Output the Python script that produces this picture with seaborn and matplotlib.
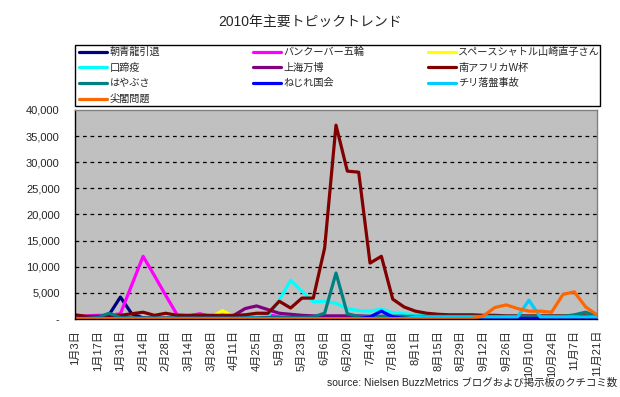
import pandas as pd
import matplotlib
matplotlib.use('Agg')
import matplotlib.pyplot as plt
from matplotlib.lines import Line2D
from matplotlib.patches import Rectangle
from matplotlib.ticker import FuncFormatter
import seaborn as sns

# 週ごとのクチコミ数 (2010/1/3 - 11/21)
weeks = ['1月3日', '1月10日', '1月17日', '1月24日', '1月31日', '2月7日', '2月14日', '2月21日',
         '2月28日', '3月7日', '3月14日', '3月21日', '3月28日', '4月4日', '4月11日', '4月18日',
         '4月25日', '5月2日', '5月9日', '5月16日', '5月23日', '5月30日', '6月6日', '6月13日',
         '6月20日', '6月27日', '7月4日', '7月11日', '7月18日', '7月25日', '8月1日', '8月8日',
         '8月15日', '8月22日', '8月29日', '9月5日', '9月12日', '9月19日', '9月26日', '10月3日',
         '10月10日', '10月17日', '10月24日', '10月31日', '11月7日', '11月14日', '11月21日']

asashoryu = [100, 100, 100, 800, 4200, 1000, 200, 100, 100, 100, 100, 100, 100, 100, 100, 100,
             100, 100, 100, 100, 100, 100, 100, 100, 100, 100, 100, 100, 100, 100, 100, 100,
             100, 100, 100, 100, 100, 100, 100, 100, 100, 100, 100, 100, 100, 100, 100]
vancouver = [500, 600, 700, 700, 1000, 6500, 12000, 8300, 4500, 800, 600, 1000, 500, 400, 300, 400,
             300, 900, 400, 300, 300, 300, 300, 300, 300, 300, 300, 300, 300, 300, 300, 300,
             300, 300, 300, 300, 300, 300, 300, 300, 300, 300, 300, 300, 300, 300, 300]
shuttle = [100, 100, 100, 100, 100, 100, 100, 100, 100, 100, 100, 100, 400, 1600, 500, 100,
           100, 100, 100, 100, 100, 100, 100, 100, 100, 100, 100, 100, 100, 100, 100, 100,
           100, 100, 100, 100, 100, 100, 100, 100, 100, 100, 100, 100, 100, 100, 100]
fmd = [100, 100, 100, 100, 100, 100, 100, 100, 100, 100, 100, 100, 100, 100, 100, 300,
       500, 500, 3600, 7400, 5300, 3300, 3400, 3000, 2000, 1600, 1500, 1900, 1200, 1000, 800, 700,
       600, 500, 400, 300, 300, 300, 300, 300, 300, 300, 300, 300, 300, 300, 300]
expo = [100, 100, 100, 100, 100, 100, 100, 100, 100, 100, 100, 100, 100, 100, 700, 2000,
        2500, 1800, 1100, 900, 700, 600, 600, 600, 600, 600, 500, 500, 500, 500, 200, 200,
        200, 200, 200, 200, 200, 200, 200, 200, 200, 200, 200, 200, 200, 200, 200]
worldcup = [800, 500, 500, 600, 700, 1000, 1300, 700, 1100, 700, 700, 700, 700, 700, 700, 800,
            1100, 1100, 3400, 2100, 4000, 4000, 13600, 37100, 28300, 28100, 10700, 12000, 3800, 2300, 1500, 1100,
            900, 800, 800, 800, 700, 700, 600, 600, 600, 600, 600, 600, 600, 600, 300]
hayabusa = [100, 100, 300, 1100, 300, 200, 200, 200, 200, 200, 200, 200, 200, 200, 200, 200,
            200, 300, 300, 300, 300, 400, 1100, 8800, 1000, 500, 500, 500, 500, 500, 500, 500,
            500, 500, 500, 500, 500, 500, 500, 500, 500, 500, 500, 500, 800, 1300, 500]
nejire = [100, 100, 100, 100, 100, 100, 100, 100, 100, 100, 100, 100, 100, 100, 100, 100,
          100, 100, 100, 100, 100, 100, 100, 100, 100, 100, 400, 1500, 400, 100, 100, 100,
          100, 100, 100, 100, 100, 100, 100, 100, 100, 100, 100, 100, 100, 100, 100]
chile = [0, 0, 0, 0, 0, 0, 0, 0, 0, 0, 0, 0, 0, 0, 0, 0,
         0, 0, 0, 0, 0, 0, 0, 0, 0, 0, 0, 0, 0, 0, 400, 400,
         400, 400, 400, 400, 400, 400, 400, 400, 3600, 400, 400, 400, 400, 400, 400]
senkaku = [50, 50, 50, 50, 50, 50, 50, 50, 50, 50, 50, 50, 50, 50, 50, 50,
           50, 50, 50, 50, 50, 50, 50, 50, 50, 50, 50, 50, 50, 50, 50, 50,
           50, 50, 50, 100, 600, 2200, 2700, 2000, 1500, 1500, 1300, 4700, 5200, 2300, 800]

topics = ['朝青龍引退', 'バンクーバー五輪', 'スペースシャトル山崎直子さん', '口蹄疫', '上海万博',
          '南アフリカW杯', 'はやぶさ', 'ねじれ国会', 'チリ落盤事故', '尖閣問題']
colors = ['#000080', '#FF00FF', '#FFFF00', '#00FFFF', '#800080',
          '#800000', '#008080', '#0000FF', '#00CCFF', '#FF6600']
tick_labels = weeks[::2]

df = pd.DataFrame({'週': weeks, 'pos': range(len(weeks))})
for name, vals in zip(topics, [asashoryu, vancouver, shuttle, fmd, expo, worldcup,
                               hayabusa, nejire, chile, senkaku]):
    df[name] = vals
long = df.melt(id_vars=['週', 'pos'], value_vars=topics, var_name='topic', value_name='count')

sns.set_style('white')
plt.rcParams['font.family'] = ['Liberation Sans', 'Noto Sans CJK JP']

fig = plt.figure(figsize=(6.2, 3.97), dpi=100)
ax = fig.add_axes([75 / 620, 1 - 319 / 397, 522 / 620, 209 / 397])
ax.set_facecolor('#C0C0C0')

sns.lineplot(data=long, x='pos', y='count', hue='topic', hue_order=topics,
             palette=dict(zip(topics, colors)), linewidth=2.3, sort=False,
             legend=False, ax=ax)

ax.set_xlim(0, len(weeks) - 1)
ax.set_ylim(0, 40000)
ax.set_yticks(range(0, 40001, 5000))
ax.yaxis.set_major_formatter(FuncFormatter(lambda v, p: '-' if v == 0 else f'{int(v):,}'))
ax.set_xticks(range(0, len(weeks), 2))
ax.set_xticklabels(tick_labels, rotation=90, va='top', ha='center')
ax.tick_params(axis='both', length=0, labelsize=8)
ax.tick_params(axis='x', pad=8)
ax.tick_params(axis='y', pad=11)
ax.set_xlabel('')
ax.set_ylabel('')
for y in range(5000, 40000, 5000):
    ax.axhline(y, color='black', lw=0.9, ls=(0, (3, 3)), zorder=0.5)

for s in ['left', 'bottom']:
    ax.spines[s].set_color('black')
    ax.spines[s].set_linewidth(1)
for s in ['top', 'right']:
    ax.spines[s].set_color('#808080')
    ax.spines[s].set_linewidth(1)

# 凡例: Excel風に3列を等間隔で並べ、枠は別に描く
fig.patches.append(Rectangle((75 / 620, 1 - 106 / 397), 525 / 620, 61 / 397,
                             transform=fig.transFigure, fill=False,
                             edgecolor='black', linewidth=1))
col_x = [77, 251, 426]
for c, x0 in enumerate(col_x):
    idx = list(range(c, len(topics), 3))
    fig.legend([Line2D([], [], color=colors[i], lw=2.3) for i in idx],
               [topics[i] for i in idx],
               loc='upper left', bbox_to_anchor=(x0 / 620, 1 - 45 / 397),
               fontsize=7.3, frameon=False, handlelength=2.8, handletextpad=0.2,
               labelspacing=0.55, borderpad=0.2, borderaxespad=0)

fig.text(0.5, 1 - 22 / 397, '2010年主要トピックトレンド', ha='center', va='center', fontsize=10)
fig.text(617 / 620, 1 - 383 / 397, 'source: Nielsen BuzzMetrics ブログおよび掲示板のクチコミ数',
         ha='right', va='center', fontsize=7.5)

fig.savefig('out.png', dpi=100)
